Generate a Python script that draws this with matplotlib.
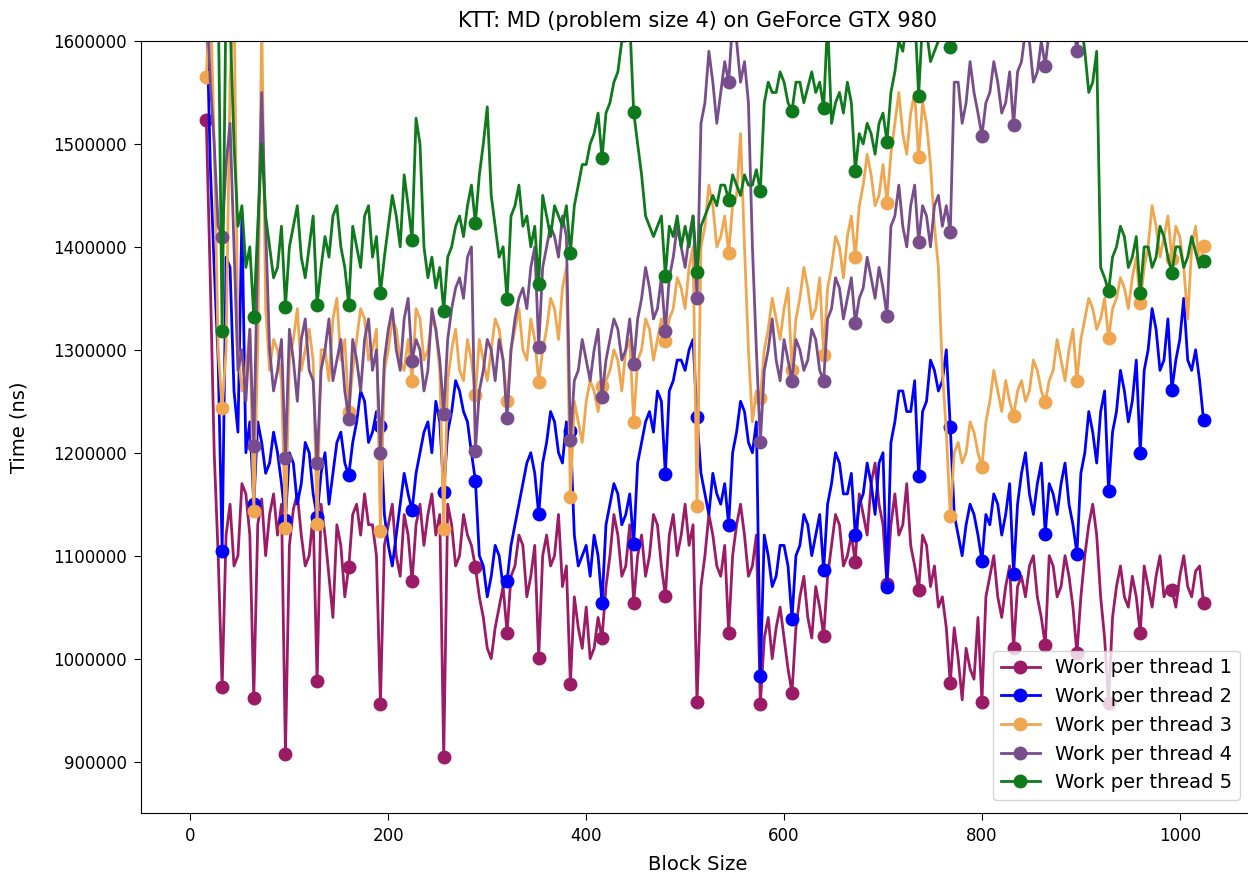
import matplotlib
matplotlib.use('Agg')
import matplotlib.pyplot as plt
import numpy as np

# block sizes sampled every 4 (16 .. 1024), times in thousands of ns
block = list(range(16, 1025, 4))

wpt1 = [
    1523, 1370, 1200, 1100,
    972, 1120, 1150, 1090, 1100, 1170, 1160, 1120,     # 32
    962, 1130, 1155, 1100, 1140, 1160, 1120, 1150,     # 64
    907, 1110, 1145, 1160, 1120, 1090, 1100, 1140,     # 96
    978, 1150, 1120, 1080, 1040, 1130, 1110, 1060,     # 128
    1089, 1140, 1150, 1120, 1160, 1130, 1130, 1100,    # 160
    956, 1110, 1130, 1150, 1100, 1080, 1140, 1120,     # 192
    1075, 1130, 1150, 1110, 1140, 1160, 1120, 1140,    # 224
    904, 1150, 1130, 1090, 1100, 1140, 1120, 1110,     # 256
    1089, 1060, 1040, 1010, 1000, 1030, 1050, 1070,    # 288
    1025, 1080, 1090, 1120, 1110, 1060, 1080, 1110,    # 320
    1001, 1100, 1120, 1090, 1100, 1140, 1070, 1090,    # 352
    975, 1060, 1030, 1010, 1050, 1000, 1010, 1040,     # 384
    1020, 1070, 1100, 1140, 1120, 1080, 1090, 1130,    # 416
    1054, 1100, 1120, 1080, 1100, 1140, 1130, 1090,    # 448
    1061, 1120, 1140, 1100, 1120, 1150, 1110, 1130,    # 480
    958, 1070, 1100, 1140, 1120, 1090, 1080, 1110,     # 512
    1025, 1100, 1130, 1150, 1120, 1080, 1090, 1120,    # 544
    956, 1020, 1040, 1000, 1030, 1050, 1020, 990,      # 576
    967, 1030, 1060, 1080, 1040, 1020, 1070, 1050,     # 608
    1022, 1080, 1110, 1140, 1130, 1090, 1100, 1120,    # 640
    1094, 1160, 1140, 1120, 1170, 1190, 1150, 1130,    # 672
    1072, 1130, 1160, 1120, 1130, 1170, 1110, 1090,    # 704
    1067, 1120, 1110, 1070, 1090, 1050, 1060, 1030,    # 736
    976, 1030, 1000, 960, 1010, 990, 980, 1040,        # 768
    958, 1060, 1080, 1100, 1060, 1040, 1070, 1090,     # 800
    1010, 1070, 1080, 1060, 1090, 1100, 1060, 1040,    # 832
    1013, 1100, 1090, 1060, 1070, 1100, 1080, 1050,    # 864
    1005, 1060, 1100, 1130, 1150, 1120, 1060, 1020,    # 896
    957, 1040, 1070, 1090, 1060, 1050, 1080, 1060,     # 928
    1025, 1090, 1070, 1050, 1080, 1100, 1060, 1070,    # 960
    1067, 1050, 1080, 1100, 1070, 1060, 1085, 1090,    # 992
    1054]

wpt2 = [
    1640, 1480, 1380, 1290,
    1105, 1390, 1380, 1260, 1220, 1430, 1200, 1230,    # 32
    1150, 1230, 1210, 1180, 1190, 1220, 1200, 1170,    # 64
    1135, 1200, 1190, 1150, 1170, 1210, 1200, 1160,    # 96
    1138, 1180, 1200, 1150, 1180, 1210, 1220, 1190,    # 128
    1178, 1210, 1230, 1260, 1250, 1210, 1220, 1240,    # 160
    1226, 1140, 1110, 1090, 1120, 1150, 1180, 1160,    # 192
    1144, 1180, 1200, 1220, 1230, 1200, 1250, 1230,    # 224
    1162, 1220, 1240, 1270, 1260, 1240, 1230, 1200,    # 256
    1173, 1100, 1090, 1060, 1080, 1110, 1100, 1070,    # 288
    1075, 1110, 1130, 1150, 1170, 1190, 1200, 1180,    # 320
    1140, 1190, 1210, 1240, 1230, 1200, 1190, 1230,    # 352
    1221, 1120, 1090, 1100, 1110, 1080, 1120, 1100,    # 384
    1054, 1130, 1150, 1170, 1160, 1130, 1140, 1160,    # 416
    1111, 1190, 1210, 1230, 1240, 1220, 1260, 1250,    # 448
    1179, 1260, 1270, 1290, 1290, 1280, 1300, 1310,    # 480
    1235, 1180, 1160, 1140, 1180, 1160, 1150, 1170,    # 512
    1130, 1200, 1220, 1250, 1240, 1210, 1200, 1230,    # 544
    983, 1120, 1100, 1070, 1080, 1110, 1110, 1090,     # 576
    1038, 1100, 1110, 1140, 1130, 1100, 1120, 1140,    # 608
    1086, 1150, 1170, 1200, 1190, 1160, 1160, 1180,    # 640
    1120, 1150, 1160, 1190, 1170, 1140, 1190, 1200,    # 672
    1070, 1210, 1230, 1260, 1260, 1240, 1240, 1270,    # 704
    1177, 1240, 1250, 1290, 1280, 1260, 1270, 1300,    # 736
    1225, 1140, 1120, 1100, 1130, 1150, 1140, 1120,    # 768
    1095, 1140, 1130, 1160, 1150, 1120, 1140, 1170,    # 800
    1082, 1150, 1180, 1200, 1160, 1140, 1170, 1190,    # 832
    1121, 1170, 1160, 1140, 1170, 1190, 1150, 1130,    # 864
    1102, 1180, 1200, 1240, 1220, 1190, 1240, 1260,    # 896
    1163, 1220, 1240, 1280, 1260, 1230, 1250, 1290,    # 928
    1200, 1280, 1300, 1340, 1320, 1280, 1290, 1330,    # 960
    1261, 1290, 1310, 1350, 1290, 1280, 1300, 1270,    # 992
    1232]

wpt3 = [
    1565, 1650, 1500, 1300,
    1243, 1300, 1560, 1650, 1300, 1260, 1280, 1320,    # 32
    1143, 1300, 1620, 1340, 1280, 1310, 1300, 1270,    # 64
    1127, 1290, 1310, 1340, 1280, 1300, 1320, 1290,    # 96
    1131, 1300, 1300, 1270, 1330, 1350, 1290, 1310,    # 128
    1240, 1280, 1310, 1340, 1330, 1290, 1300, 1320,    # 160
    1124, 1280, 1300, 1330, 1320, 1290, 1280, 1310,    # 192
    1270, 1340, 1330, 1290, 1300, 1330, 1320, 1280,    # 224
    1126, 1270, 1300, 1320, 1280, 1270, 1310, 1290,    # 256
    1256, 1310, 1290, 1270, 1300, 1330, 1320, 1290,    # 288
    1250, 1300, 1320, 1340, 1300, 1290, 1330, 1310,    # 320
    1269, 1300, 1320, 1350, 1340, 1310, 1360, 1380,    # 352
    1157, 1250, 1230, 1210, 1250, 1270, 1260, 1240,    # 384
    1265, 1270, 1280, 1300, 1290, 1260, 1300, 1310,    # 416
    1230, 1290, 1300, 1330, 1320, 1290, 1310, 1330,    # 448
    1309, 1330, 1340, 1370, 1360, 1340, 1380, 1400,    # 480
    1148, 1400, 1420, 1460, 1440, 1400, 1410, 1430,    # 512
    1394, 1440, 1450, 1510, 1400, 1300, 1230, 1260,    # 544
    1253, 1300, 1320, 1350, 1330, 1310, 1340, 1360,    # 576
    1280, 1330, 1350, 1380, 1360, 1330, 1340, 1370,    # 608
    1295, 1360, 1380, 1410, 1400, 1370, 1410, 1430,    # 640
    1390, 1440, 1460, 1490, 1470, 1440, 1450, 1480,    # 672
    1443, 1490, 1520, 1550, 1510, 1490, 1530, 1550,    # 704
    1487, 1540, 1520, 1480, 1420, 1380, 1280, 1220,    # 736
    1139, 1200, 1210, 1190, 1200, 1230, 1220, 1200,    # 768
    1186, 1230, 1250, 1280, 1260, 1240, 1270, 1250,    # 800
    1236, 1260, 1270, 1250, 1260, 1290, 1280, 1260,    # 832
    1249, 1270, 1280, 1310, 1290, 1270, 1300, 1320,    # 864
    1270, 1310, 1330, 1350, 1340, 1320, 1330, 1350,    # 896
    1311, 1340, 1350, 1370, 1360, 1340, 1370, 1390,    # 928
    1345, 1380, 1400, 1440, 1420, 1390, 1410, 1430,    # 960
    1388, 1420, 1410, 1380, 1330, 1400, 1420, 1380,    # 992
    1401]

wpt4 = [
    1660, 1560, 1500, 1420,
    1410, 1480, 1520, 1400, 1280, 1300, 1250, 1320,    # 32
    1207, 1400, 1550, 1420, 1300, 1260, 1280, 1310,    # 64
    1195, 1320, 1290, 1250, 1310, 1330, 1280, 1270,    # 96
    1190, 1280, 1300, 1330, 1270, 1290, 1310, 1260,    # 128
    1233, 1310, 1290, 1260, 1310, 1330, 1280, 1300,    # 160
    1200, 1290, 1320, 1340, 1300, 1280, 1330, 1350,    # 192
    1289, 1310, 1300, 1260, 1280, 1340, 1320, 1290,    # 224
    1238, 1310, 1340, 1360, 1370, 1350, 1390, 1400,    # 256
    1202, 1260, 1280, 1310, 1300, 1270, 1310, 1290,    # 288
    1234, 1300, 1330, 1350, 1360, 1340, 1380, 1400,    # 320
    1303, 1380, 1400, 1420, 1410, 1390, 1430, 1410,    # 352
    1212, 1270, 1280, 1310, 1290, 1270, 1300, 1320,    # 384
    1254, 1290, 1310, 1330, 1320, 1290, 1300, 1330,    # 416
    1286, 1330, 1350, 1380, 1360, 1330, 1340, 1370,    # 448
    1318, 1370, 1390, 1420, 1400, 1380, 1410, 1430,    # 480
    1350, 1520, 1540, 1590, 1560, 1520, 1550, 1580,    # 512
    1560, 1620, 1600, 1560, 1580, 1540, 1400, 1300,    # 544
    1210, 1280, 1300, 1330, 1290, 1270, 1310, 1290,    # 576
    1270, 1310, 1300, 1280, 1290, 1320, 1310, 1280,    # 608
    1270, 1330, 1340, 1370, 1360, 1330, 1350, 1370,    # 640
    1326, 1350, 1360, 1390, 1370, 1350, 1380, 1360,    # 672
    1333, 1420, 1430, 1460, 1420, 1400, 1440, 1460,    # 704
    1405, 1440, 1430, 1400, 1440, 1450, 1420, 1440,    # 736
    1414, 1560, 1560, 1520, 1540, 1580, 1550, 1530,    # 768
    1508, 1540, 1550, 1580, 1560, 1530, 1540, 1570,    # 800
    1518, 1570, 1580, 1610, 1600, 1560, 1570, 1600,    # 832
    1576, 1610, 1620, 1640, 1610, 1600, 1630, 1620,    # 864
    1590, 1640, 1640, 1660, 1660, 1650, 1650, 1670,    # 896
    1650, 1670, 1670, 1660, 1660, 1680, 1680, 1670,    # 928
    1660, 1680, 1680, 1690, 1670, 1680, 1690, 1700,    # 960
    1680, 1690, 1690, 1700, 1700, 1690, 1690, 1700,    # 992
    1700]

wpt5 = [
    1650, 1700, 1700, 1650,
    1318, 1650, 1620, 1500, 1420, 1440, 1380, 1400,    # 32
    1332, 1420, 1500, 1430, 1400, 1370, 1380, 1420,    # 64
    1342, 1400, 1420, 1440, 1390, 1370, 1400, 1430,    # 96
    1344, 1380, 1410, 1390, 1430, 1440, 1400, 1380,    # 128
    1344, 1420, 1400, 1380, 1430, 1440, 1390, 1410,    # 160
    1355, 1390, 1420, 1450, 1430, 1400, 1470, 1440,    # 192
    1407, 1525, 1500, 1400, 1370, 1390, 1360, 1380,    # 224
    1338, 1390, 1400, 1420, 1430, 1410, 1440, 1460,    # 256
    1423, 1470, 1500, 1536, 1450, 1420, 1390, 1400,    # 288
    1349, 1430, 1440, 1460, 1420, 1430, 1400, 1420,    # 320
    1364, 1450, 1430, 1410, 1440, 1430, 1420, 1440,    # 352
    1394, 1440, 1460, 1480, 1480, 1500, 1510, 1530,    # 384
    1486, 1530, 1540, 1560, 1570, 1600, 1600, 1620,    # 416
    1531, 1500, 1470, 1430, 1420, 1410, 1420, 1430,    # 448
    1372, 1420, 1410, 1430, 1400, 1420, 1400, 1430,    # 480
    1376, 1420, 1430, 1440, 1450, 1440, 1460, 1460,    # 512
    1446, 1470, 1460, 1450, 1470, 1460, 1460, 1475,    # 544
    1454, 1540, 1560, 1550, 1550, 1570, 1560, 1540,    # 576
    1532, 1560, 1560, 1540, 1555, 1570, 1550, 1560,    # 608
    1535, 1620, 1520, 1540, 1550, 1530, 1560, 1540,    # 640
    1474, 1510, 1500, 1520, 1510, 1490, 1520, 1530,    # 672
    1502, 1550, 1570, 1600, 1590, 1620, 1600, 1630,    # 704
    1547, 1620, 1610, 1580, 1590, 1600, 1620, 1630,    # 736
    1594, 1650, 1650, 1660, 1660, 1650, 1650, 1660,    # 768
    1670, 1660, 1660, 1680, 1680, 1670, 1670, 1680,    # 800
    1680, 1670, 1670, 1690, 1690, 1680, 1680, 1670,    # 832
    1670, 1680, 1680, 1660, 1660, 1670, 1670, 1650,    # 864
    1640, 1620, 1590, 1550, 1560, 1590, 1380, 1370,    # 896
    1357, 1390, 1400, 1420, 1410, 1380, 1390, 1410,    # 928
    1355, 1400, 1400, 1380, 1390, 1420, 1410, 1390,    # 960
    1375, 1400, 1400, 1380, 1390, 1410, 1395, 1380,    # 992
    1386]

labels = ['Work per thread 1', 'Work per thread 2', 'Work per thread 3',
          'Work per thread 4', 'Work per thread 5']
colors = ['#9b1b66', '#0000ff', '#f0a64f', '#774d8c', '#0e7a1c']

marks = [i for i, b in enumerate(block) if b == 16 or b % 32 == 0]

fig = plt.figure(figsize=(12.48, 8.74), dpi=100)
ax = fig.add_axes([141/1248, 1 - 813/874, (1254 - 141)/1248, (813 - 41)/874])

for series, lab, col in zip([wpt1, wpt2, wpt3, wpt4, wpt5], labels, colors):
    ax.plot(block, np.array(series) * 1000, color=col, lw=2, marker='o',
            markersize=9, markevery=marks, label=lab)

ax.set_xlim(-50, 1075)
ax.set_ylim(850000, 1600000)
ax.ticklabel_format(axis='y', style='plain', useOffset=False)
ax.spines['right'].set_visible(False)
ax.tick_params(labelsize=12, length=5, pad=5)
ax.set_xlabel('Block Size', fontsize=14, labelpad=7)
ax.set_ylabel('Time (ns)', fontsize=14, labelpad=18)
ax.set_title('KTT: MD (problem size 4) on GeForce GTX 980', fontsize=15, pad=10)
ax.legend(loc='lower right', bbox_to_anchor=(1240/1248, 1 - 800/874),
          bbox_transform=fig.transFigure, borderaxespad=0, fontsize=14)

fig.savefig('out.png', dpi=100)
